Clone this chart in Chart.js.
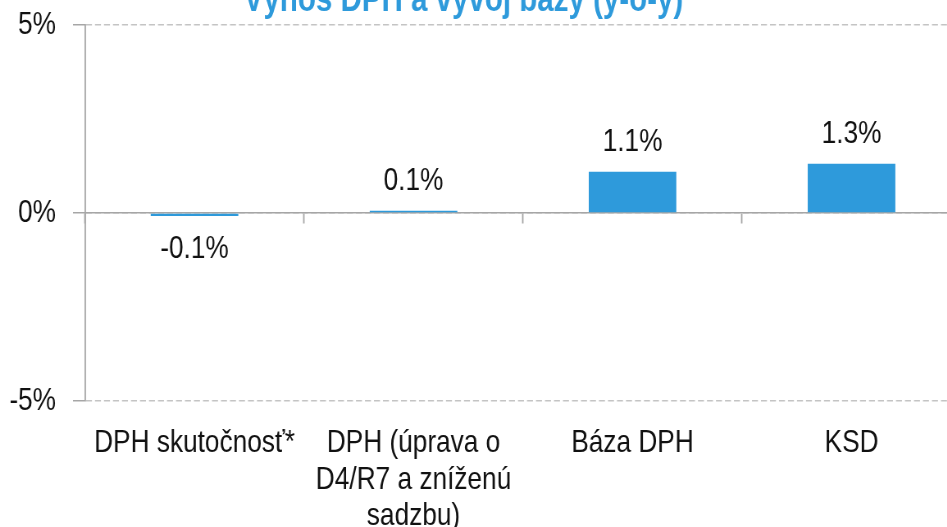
<!DOCTYPE html>
<html>
<head>
<meta charset="utf-8">
<script src="https://cdn.jsdelivr.net/npm/chart.js@4/dist/chart.umd.min.js"></script>
<style>
  html, body { margin: 0; padding: 0; overflow: hidden; background: #fff; width: 947px; height: 527px; }
  #wrap { position: absolute; left: 0; top: -21px; width: 1172px; height: 548px;
          transform: scaleX(0.82); transform-origin: 0 0; }
</style>
</head>
<body>
<div id="wrap"><canvas id="c" width="1172" height="548"></canvas></div>
<script>
const titleText = 'Výnos DPH a vývoj bázy (y-o-y)';
const categories = [
  'DPH skutočnosť*',
  ['DPH (úprava o', 'D4/R7 a zníženú', 'sadzbu)'],
  'Báza DPH',
  'KSD'
];
const values = [-0.08, 0.06, 1.1, 1.31];
const valueLabels = ['-0.1%', '0.1%', '1.1%', '1.3%'];
const yTicks = [-5, 0, 5];

// canvas is drawn wide and squeezed horizontally (narrow font look)
const SX = 0.82;
const FONT = '"Liberation Sans", Arial, sans-serif';
const BLUE = '#2E9ADB';
const AXIS = '#A6A6A6';
const GRID = '#C4C4C4';
const TEXT = '#111111';

const valueLabelPlugin = {
  id: 'valueLabels',
  afterDatasetsDraw(chart) {
    const ctx = chart.ctx;
    const meta = chart.getDatasetMeta(0);
    ctx.save();
    ctx.font = '32px ' + FONT;
    ctx.fillStyle = TEXT;
    ctx.textAlign = 'center';
    ctx.textBaseline = 'middle';
    meta.data.forEach((bar, i) => {
      const v = values[i];
      const y = v >= 0 ? bar.y - 30 : bar.y + 33;
      ctx.fillText(valueLabels[i], bar.x, y);
    });
    ctx.restore();
  }
};

new Chart(document.getElementById('c'), {
  type: 'bar',
  data: {
    labels: categories,
    datasets: [{
      data: values,
      backgroundColor: BLUE,
      borderWidth: 0,
      barPercentage: 0.4,
      categoryPercentage: 1.0
    }]
  },
  options: {
    responsive: false,
    animation: false,
    devicePixelRatio: 1,
    layout: { padding: { left: -34 / SX, right: 0, top: 0, bottom: 0 } },
    plugins: {
      legend: { display: false },
      tooltip: { enabled: false },
      title: {
        display: true,
        text: titleText,
        color: BLUE,
        font: { family: FONT, size: 36, weight: 'bold', lineHeight: 1.2 },
        padding: { top: 0, bottom: 3 }
      }
    },
    scales: {
      x: {
        position: 'bottom',
        grid: { display: false },
        border: { display: false },
        ticks: {
          color: TEXT,
          font: { family: FONT, size: 32, lineHeight: 1.14 },
          padding: 16,
          maxRotation: 0,
          autoSkip: false
        },
        afterFit(scale) { scale.height = 126; }
      },
      x0: {
        type: 'category',
        position: { y: 0 },
        offset: true,
        grid: {
          drawOnChartArea: false,
          drawTicks: true,
          tickLength: 10,
          tickColor: AXIS,
          tickWidth: 1.5 / SX,
          offset: true
        },
        border: { display: true, color: AXIS, width: 1.5 },
        ticks: { display: false }
      },
      y: {
        min: -5,
        max: 5,
        afterBuildTicks(scale) { scale.ticks = yTicks.map(v => ({ value: v })); },
        ticks: {
          color: TEXT,
          font: { family: FONT, size: 32 },
          padding: 17 / SX,
          callback: v => v + '%'
        },
        grid: {
          color: GRID,
          lineWidth: 1.5,
          drawTicks: true,
          tickLength: 12 / SX,
          tickColor: AXIS,
          tickWidth: 1.5
        },
        border: { display: true, color: AXIS, width: 1.5 / SX, dash: [6 / SX, 3 / SX] },
        afterFit(scale) { scale.width = 119 / SX; }
      }
    }
  },
  plugins: [valueLabelPlugin]
});
</script>
</body>
</html>
